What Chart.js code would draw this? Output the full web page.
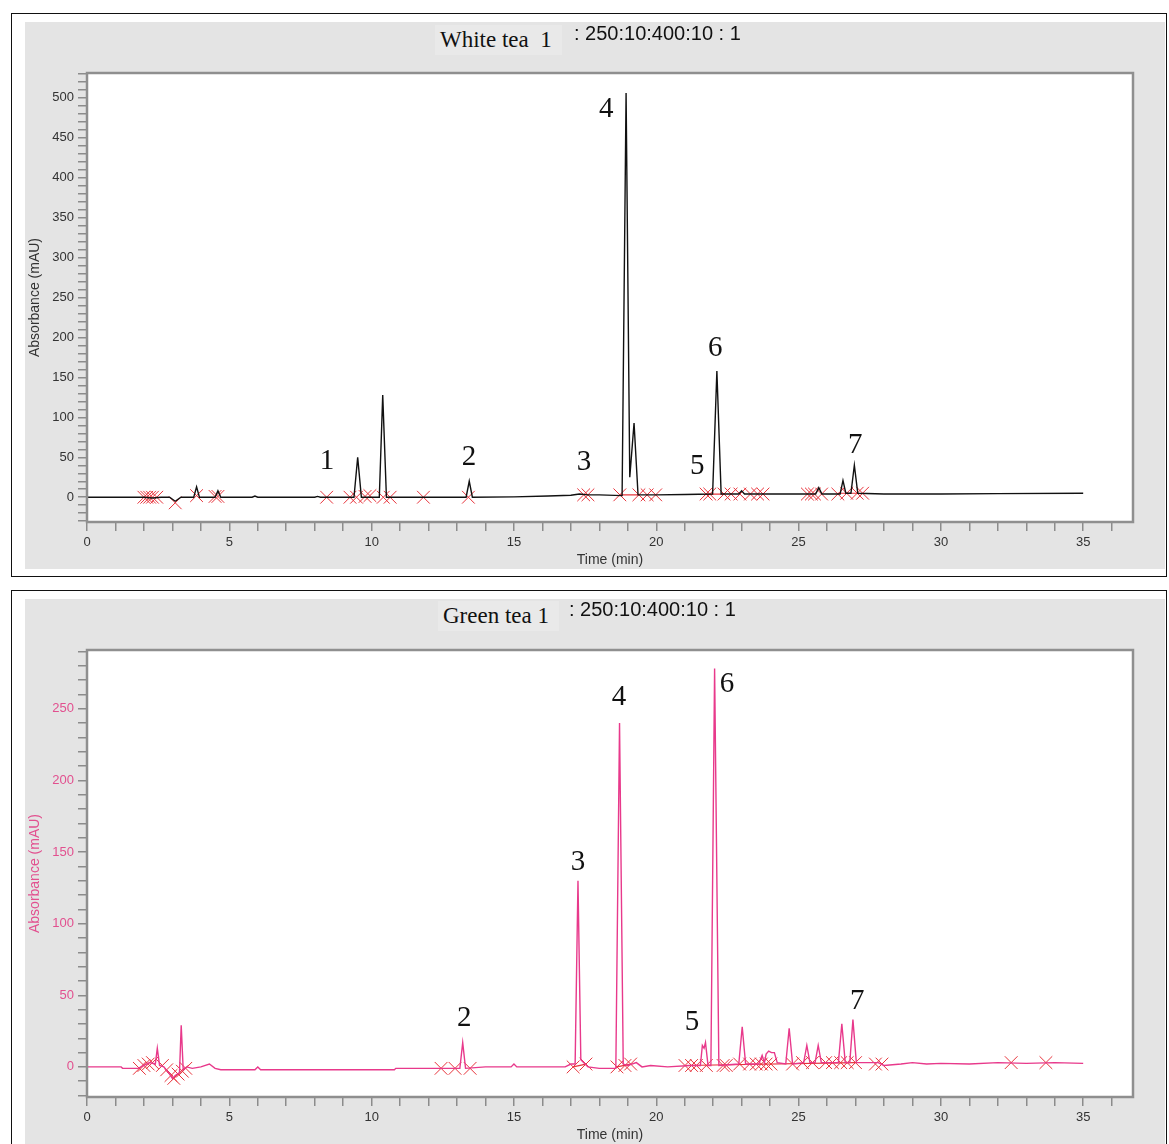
<!DOCTYPE html>
<html>
<head>
<meta charset="utf-8">
<script src="https://cdn.jsdelivr.net/npm/chart.js@4.4.1/dist/chart.umd.min.js"></script>
<style>
  body { margin: 0; background: #fff; width: 1169px; height: 1144px; position: relative; overflow: hidden; }
  .frame { position: absolute; left: 11px; width: 1156px; border: 1.5px solid #111; box-sizing: border-box; }
  .panel { position: absolute; left: 25px; width: 1140px; background: #e4e4e4; }
  .panel canvas { position: absolute; left: 0; top: 0; }
  .name { position: absolute; font-family: "Liberation Serif", "Times New Roman", serif; font-size: 23px; color: #111;
          background: #e9e9e9; padding: 2px 10px 2px 5px; white-space: pre; }
  .cond { position: absolute; font-family: "Liberation Sans", Arial, sans-serif; font-size: 20px; color: #111; white-space: pre; }
</style>
</head>
<body>
<div class="frame" style="top:13px;height:564px"></div>
<div class="panel" style="top:22px;height:547px"><canvas id="white"></canvas></div>
<div class="name" style="left:435px;top:25px">White tea  1</div>
<div class="cond" style="left:574px;top:22px">: 250:10:400:10 : 1</div>

<div class="frame" style="top:590px;height:600px"></div>
<div class="panel" style="top:599px;height:545px"><canvas id="green"></canvas></div>
<div class="name" style="left:438px;top:601px">Green tea 1</div>
<div class="cond" style="left:569px;top:598px">: 250:10:400:10 : 1</div>

<script>
// White tea trace (time in min, absorbance in mAU)
const wtTime = [0, 2.0, 2.3, 2.6, 2.9, 3.1, 3.3, 3.75, 3.85, 3.95, 4.5, 4.6, 4.7, 5.8, 5.9, 6.0, 8.0, 8.1, 8.2,
  9.38, 9.51, 9.64, 10.27, 10.39, 10.52, 13.32, 13.43, 13.54, 15.0, 16.2, 17.0, 17.3, 17.6, 18.0, 18.8, 18.94, 19.07,
  19.22, 19.36, 20.0, 21.0, 21.98, 22.13, 22.28, 22.9, 23.0, 23.1, 24.5, 25.6, 25.71, 25.82, 26.46, 26.56, 26.66,
  26.84, 26.96, 27.08, 28.0, 30.0, 32.0, 35.0];
const wtAbs = [0, 0, -1, 0, 0, -5, 0, 0, 13, 0, 0, 8, 0, 0, 1.5, 0, 0, 1, 0,
  0, 50, 0, 0, 128, 0, 0, 20, 0, 0.5, 1.5, 2.5, 4, 3, 3, 2, 506, 25,
  93, 3, 3, 3.5, 4, 158, 4, 4, 8, 4, 4, 4, 12, 4, 4, 21, 5,
  5, 40, 5, 4, 4, 4.5, 5];

const wtMarkT = [2.0, 2.1, 2.2, 2.3, 2.45, 3.1, 3.85, 4.5, 4.6, 8.42, 9.24, 9.47, 9.77, 9.94, 10.41, 10.65, 11.82,
  13.4, 17.45, 17.6, 18.72, 19.39, 19.68, 19.98, 21.75, 21.88, 22.38, 22.63, 22.94, 23.31, 23.56, 23.75, 25.31,
  25.45, 25.56, 25.81, 26.38, 26.69, 27.06, 27.25];
const wtMarkV = [0, 0, 0, 0, 0, -7, 2, 1, 1, 0, 0, 0, 1, 2, 0, 0, 0,
  0, 3, 3, 3, 3, 3, 3, 4, 4, 4, 4, 4, 4, 4, 4, 4,
  4, 4, 4, 4, 5, 5, 5];
const wtBaseT = [18.72, 19.39, null, 21.75, 22.38, null, 26.38, 27.06];
const wtBaseV = [3, 3, null, 4, 4, null, 5, 5];

const wtPeakNo = ['1', '2', '3', '4', '5', '6', '7'];
const wtPeakT = [8.43, 13.42, 17.46, 18.24, 21.44, 22.07, 26.99];
const wtPeakV = [45, 50, 43, 485, 38, 186, 65];

// Green tea trace
const gtTime = [0, 1.2, 1.25, 1.8, 2.0, 2.2, 2.4, 2.47, 2.55, 2.7, 2.9, 3.0, 3.1, 3.25, 3.31, 3.38, 3.5, 3.7, 4.0,
  4.3, 4.5, 4.7, 5.9, 6.0, 6.1, 10.8, 10.85, 12.4, 13.1, 13.2, 13.3, 14.0, 14.9, 15.0, 15.1, 16.0, 16.8, 17.0,
  17.15, 17.25, 17.35, 17.5, 17.6, 18.0, 18.58, 18.71, 18.84, 19.0, 19.3, 19.5, 19.8, 20.4, 21.2, 21.55, 21.62,
  21.68, 21.73, 21.82, 21.92, 22.05, 22.2, 22.9, 23.02, 23.14, 23.6, 23.72, 23.8, 23.86, 23.95, 24.05, 24.15, 24.25,
  24.55, 24.67, 24.79, 25.18, 25.29, 25.4, 25.58, 25.69, 25.8, 26.4, 26.52, 26.64, 26.8, 26.91, 27.03, 27.8, 28.0,
  28.6, 29.0, 29.5, 30.0, 31.0, 32.0, 33.0, 34.0, 35.0];
const gtAbs = [0, 0, -1, -1, 1, 3, 2, 13, 1, 0, -5, -8, -6, -4, 29, -2, 0, -1, 0,
  2, -1, -2, -2, 0, -2, -2, -1, -1, -1, 17, -1, 0, 0, 2, 0, 0, 0, 2,
  2, 130, 5, 2, 0, -1, -1, 240, 2, 1, 3, 0, 1, 0, 1, 1, 15,
  13, 17, 1, 1, 278, 1, 2, 28, 2, 2, 8, 3, 9, 11, 10, 10, 3,
  2, 27, 2, 3, 15, 3, 3, 15, 3, 3, 30, 3, 3, 33, 3, 3, 1,
  2, 3, 2, 2.5, 2, 3, 2.5, 3, 2.5];

const gtMarkT = [1.84, 2.0, 2.15, 2.3, 2.65, 2.8, 2.95, 3.05, 3.2, 3.35, 3.47, 12.44, 12.93, 13.46, 17.08, 17.53,
  18.62, 18.9, 19.1, 21.01, 21.24, 21.41, 21.76, 22.35, 22.46, 22.93, 23.28, 23.51, 23.69, 23.86, 24.03, 24.79,
  25.14, 25.49, 25.95, 26.19, 26.48, 26.71, 27.0, 27.7, 27.93, 32.47, 33.69];
const gtMarkV = [-1, 1, 2, 3, 1, -2, -6, -8, -5, -3, -1, -1, -1, -1, 0, 2,
  0, 1, 2, 1, 1, 1, 1, 1, 1, 2, 2, 2, 2, 2, 2, 2,
  3, 3, 3, 3, 3, 3, 3, 2, 2, 3, 3];
const gtBaseT = [17.08, 17.53, null, 18.62, 19.1, null, 21.01, 27.0];
const gtBaseV = [0, 2, null, 0, 2, null, 1, 3];

const gtPeakNo = ['2', '3', '4', '5', '6', '7'];
const gtPeakT = [13.25, 17.25, 18.69, 21.26, 22.49, 27.06];
const gtPeakV = [34, 143, 258, 31, 267, 46];

const pts = (t, v) => t.map((x, i) => ({ x: x, y: v[i] }));

const framePlugin = {
  id: 'frame',
  beforeDatasetsDraw(chart) {
    const a = chart.chartArea, c = chart.ctx;
    c.save();
    c.fillStyle = '#fff';
    c.fillRect(a.left, a.top, a.right - a.left, a.bottom - a.top);
    c.restore();
  },
  afterDraw(chart) {
    const a = chart.chartArea, c = chart.ctx;
    c.save();
    c.strokeStyle = '#8f8f8f';
    c.lineWidth = 2.5;
    c.strokeRect(a.left, a.top, a.right - a.left, a.bottom - a.top);
    const o = chart.options.plugins.frame;
    c.fillStyle = '#111';
    c.font = '29px "Liberation Serif", serif';
    c.textAlign = 'center';
    c.textBaseline = 'middle';
    o.no.forEach((s, i) => {
      c.fillText(s, chart.scales.x.getPixelForValue(o.t[i]), chart.scales.y.getPixelForValue(o.v[i]));
    });
    c.restore();
  }
};

function makeChart(id, w, h, cfg) {
  const cv = document.getElementById(id);
  cv.width = w; cv.height = h;
  cv.style.width = w + 'px'; cv.style.height = h + 'px';
  return new Chart(cv, {
    type: 'line',
    data: {
      datasets: [
        { data: pts(cfg.t, cfg.v), borderColor: cfg.color, borderWidth: 1.4, pointRadius: 0, tension: 0 },
        { data: pts(cfg.bt, cfg.bv), borderColor: '#e8333b', borderWidth: 1.2, pointRadius: 0, spanGaps: false },
        { data: pts(cfg.mt, cfg.mv), showLine: false, pointStyle: 'crossRot', pointRadius: 9,
          pointBorderColor: '#e8333b', pointBorderWidth: 1, pointBackgroundColor: 'transparent' }
      ]
    },
    options: {
      responsive: false,
      animation: false,
      layout: { padding: { left: 0, top: 51, right: 32, bottom: 0 } },
      plugins: {
        legend: { display: false },
        tooltip: { enabled: false },
        frame: { no: cfg.no, t: cfg.pt, v: cfg.pv }
      },
      scales: {
        x: {
          type: 'linear', min: 0, max: 36.75,
          afterFit: s => { s.height = h - cfg.plotBottom; },
          border: { display: false },
          grid: { drawOnChartArea: false, drawTicks: true, tickLength: 9, color: '#8c8c8c', lineWidth: 1.5 },
          ticks: {
            stepSize: 1, includeBounds: false, autoSkip: false, maxRotation: 0, padding: 4,
            color: '#333', font: { family: '"Liberation Sans", Arial, sans-serif', size: 13 },
            callback: v => (Math.abs(v % 5) < 1e-6 ? String(v) : '')
          },
          title: { display: true, text: 'Time (min)', color: '#333', padding: { top: 2, bottom: 0 },
            font: { family: '"Liberation Sans", Arial, sans-serif', size: 14 } }
        },
        y: {
          min: cfg.ymin, max: cfg.ymax,
          afterFit: s => { s.width = 62; },
          border: { display: false },
          grid: { drawOnChartArea: false, drawTicks: true, tickLength: 9, color: '#8c8c8c', lineWidth: 1.5 },
          ticks: {
            stepSize: 10, includeBounds: false, autoSkip: false, padding: 4,
            color: cfg.labelColor, font: { family: '"Liberation Sans", Arial, sans-serif', size: 13 },
            callback: v => (Math.abs(v % 50) < 1e-6 ? String(v) : '')
          },
          title: { display: true, text: 'Absorbance (mAU)', color: cfg.labelColor, padding: { top: 2, bottom: 0 },
            font: { family: '"Liberation Sans", Arial, sans-serif', size: 14 } }
        }
      }
    },
    plugins: [framePlugin]
  });
}

makeChart('white', 1140, 547, {
  t: wtTime, v: wtAbs, bt: wtBaseT, bv: wtBaseV, mt: wtMarkT, mv: wtMarkV,
  no: wtPeakNo, pt: wtPeakT, pv: wtPeakV,
  color: '#111', labelColor: '#333', ymin: -31, ymax: 531, plotBottom: 500
});

makeChart('green', 1140, 545, {
  t: gtTime, v: gtAbs, bt: gtBaseT, bv: gtBaseV, mt: gtMarkT, mv: gtMarkV,
  no: gtPeakNo, pt: gtPeakT, pv: gtPeakV,
  color: '#e8398b', labelColor: '#e2508f', ymin: -21, ymax: 291, plotBottom: 498
});
</script>
</body>
</html>
